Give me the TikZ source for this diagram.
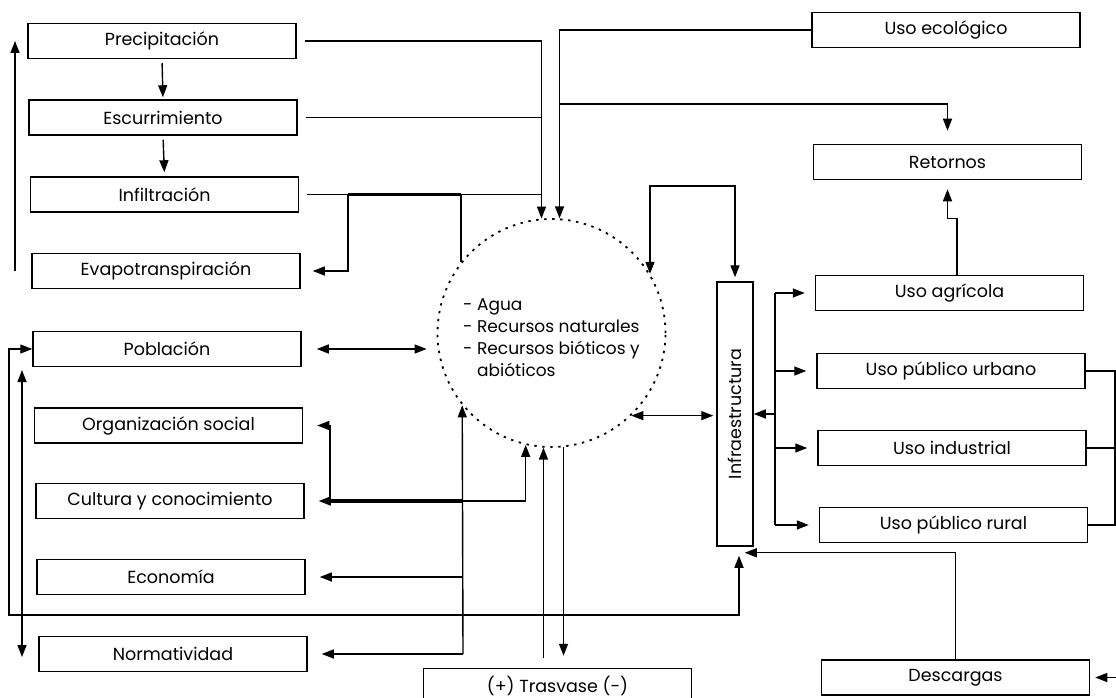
\documentclass[tikz,border=0pt]{standalone}
\usepackage{fontspec}
\setmainfont{Poppins}
\usetikzlibrary{arrows.meta}
\tikzset{
  box/.style={draw, line width=1.5pt, minimum width=268pt, minimum height=35pt,
    inner sep=0pt, font=\fontsize{17.5}{20}\selectfont},
  ln/.style={line width=1.4pt},
  arr/.style={ln, -{Triangle[length=12pt,width=9pt]}},
  darr/.style={ln, {Triangle[length=12pt,width=9pt]}-{Triangle[length=12pt,width=9pt]}},
  thk/.style={line width=3.2pt},
  pool/.style={circle, draw, line width=1.8pt, dash pattern=on 2.4pt off 5.6pt,
    minimum size=228pt, inner sep=0pt, align=left,
    font=\fontsize{17}{22}\selectfont},
}
\begin{document}
\begin{tikzpicture}[x=1pt, y=-1pt]
\useasboundingbox (0,0) rectangle (1116,698);
\clip (0,0) rectangle (1116,698);
\fill[white] (0,0) rectangle (1116,698);

% left column: hydrological cycle and social factors
\node[box] (prec) at (162,41)    {Precipitación};
\node[box] (esc)  at (163,117.5) {Escurrimiento};
\node[box] (inf)  at (164.5,194.5) {Infiltración};
\node[box] (evap) at (166,271)   {Evapotranspiración};
\node[box] (pob)  at (167,349)   {Población};
\node[box] (org)  at (168.5,425.5) {Organización social};
\node[box] (cult) at (170,501)   {Cultura y conocimiento};
\node[box] (econ) at (171,577)   {Economía};
\node[box] (norm) at (173,654)   {Normatividad};

% central resource pool
\node[pool] (circ) at (551.5,333) {\rule{0pt}{21pt}- Agua\\- Recursos naturales\\- Recursos bióticos y\\\hphantom{- }abióticos};

% infrastructure and uses
\node[draw, line width=1.5pt, minimum width=36pt, minimum height=264pt, inner sep=0pt]
  (infra) at (735,414) {};
\node[rotate=90, font=\fontsize{17.5}{20}\selectfont] at (infra.center) {Infraestructura};

\node[box] (ecol) at (946,30)      {Uso ecológico};
\node[box] (ret)  at (947.5,162)   {Retornos};
\node[box] (agr)  at (949.5,293)   {Uso agrícola};
\node[box] (urb)  at (951,371)     {Uso público urbano};
\node[box] (ind)  at (952,448)     {Uso industrial};
\node[box] (rur)  at (953.5,525)   {Uso público rural};
\node[box] (desc) at (955.5,677.5) {Descargas};
\node[box] (tras) at (557.5,686)   {(+) Trasvase (-)};

% reference columns for the vertical runs
\coordinate (upx)  at (15,0);
\coordinate (lx)   at (9,0);
\coordinate (ly)   at (0,615);
\coordinate (xa)   at (348,0);
\coordinate (xc)   at (330,0);
\coordinate (xd)   at (463,0);
\coordinate (busx) at (775,0);
\coordinate (rx)   at (1115,0);
\coordinate (pn1)  at (22,370);
\coordinate (pn2)  at (22,657);
\coordinate (ecoj) at (559,104);
\coordinate (rin)  at (1116,677.5);

% cycle
\draw[arr, shorten <=4pt, shorten >=2pt] (prec.south) -- (esc.north);
\draw[arr, shorten <=4pt, shorten >=4pt] (esc.south) -- (inf.north);
\draw[arr] (evap.west -| upx) -- (prec.west -| upx);

% water inputs to the pool
\draw[arr] ([xshift=8pt]prec.east) -| (circ.95);
\draw[ln] ([xshift=8pt]esc.east) -- (esc.east -| circ.95);
\draw[ln] ([xshift=8pt]inf.east) -- (inf.east -| circ.95);
\draw[thk] (inf.east -| xa) -- (inf.east -| circ.142);
\draw[ln] (inf.east -| circ.142) -- (circ.142);
\draw[arr] (inf.east -| xa) |- ([xshift=12pt]evap.east);

% ecological use
\draw[arr] (ecol.west) -| (circ.86);
\draw[arr] (ecoj) -| ([yshift=13pt]ret.north);

% population and social links
\draw[darr] ([xshift=15pt]pob.east) -- ([xshift=-10pt]pob.east -| circ.west);
\draw[darr] (pn1) -- (pn2);
\draw[darr] (pob.west) -| (lx |- ly) -| ([xshift=4pt,yshift=-9pt]infra.south);

\draw[arr] (norm.east -| xd) -- (circ.219);
\draw[arr] (norm.east -| xd) -- ([xshift=14pt]norm.east);
\draw[arr] (econ.east -| xd) -- ([xshift=14pt]econ.east);
\draw[thk] (cult.east -| xd) -- (cult.east -| xc);
\draw[arr] (cult.east -| xc) -- ([xshift=14pt]cult.east);
\draw[arr] (cult.east -| xc) |- ([xshift=14pt]org.east);
\draw[arr] (cult.east -| xd) -| (circ.257);

% transfers
\draw[arr] ([yshift=10pt]tras.north -| circ.266) -- (circ.266);
\draw[arr] (circ.276) -- ([yshift=12pt]tras.north -| circ.276);

% pool and infrastructure
\draw[darr] (circ.-46) -- ([xshift=-3pt]infra.west |- circ.-46);
\draw[darr] (circ.31) -- (circ.31 |- 0,186) -| ([yshift=4pt]infra.north);

% distribution to uses
\draw[ln] (agr.west -| busx) -- (rur.west -| busx);
\draw[arr] (infra.east -| busx) -- (infra.east);
\draw[arr] (agr.west -| busx) -- ([xshift=-10pt]agr.west);
\draw[arr] (urb.west -| busx) -- ([xshift=-10pt]urb.west);
\draw[arr] (ind.west -| busx) -- ([xshift=-10pt]ind.west);
\draw[arr] (rur.west -| busx) -- ([xshift=-10pt]rur.west);

\draw[arr] ([xshift=7.5pt]agr.north) -- ++(0,-56) -| ([yshift=-9pt]ret.south);

% returns from the uses
\draw[ln] (urb.east) -- (urb.east -| rx) -- (rur.east -| rx) -- (rur.east);
\draw[ln] (ind.east) -- (ind.east -| rx);
\draw[arr] (rin) -- ([xshift=5pt]desc.east);
\draw[arr] (desc.north) |- ([xshift=-9pt,yshift=-6pt]infra.south east);
\end{tikzpicture}
\end{document}
